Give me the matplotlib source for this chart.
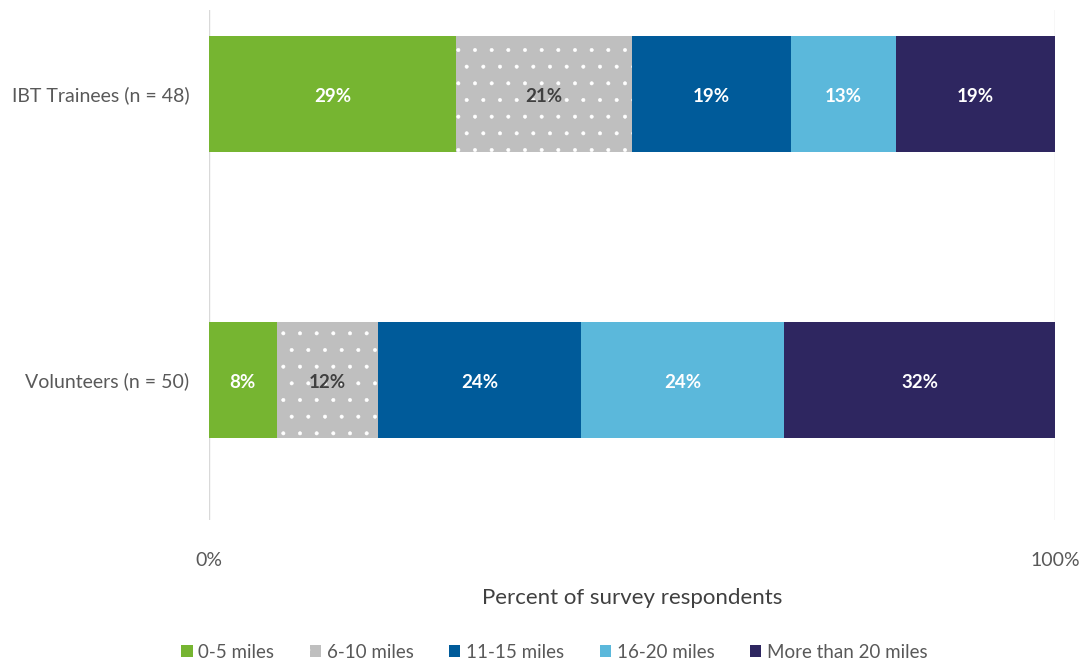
import numpy as np
import matplotlib.pyplot as plt
from matplotlib.patches import Patch

plt.rcParams['font.family'] = ['Lato', 'DejaVu Sans']
plt.rcParams['hatch.linewidth'] = 0.4

# Antworten je Gruppe (Anzahl), daraus Prozentwerte
groups = ["IBT Trainees (n = 48)", "Volunteers (n = 50)"]
n_total = [48, 50]
categories = ["0-5 miles", "6-10 miles", "11-15 miles", "16-20 miles", "More than 20 miles"]
counts = [
    [14, 10, 9, 6, 9],     # IBT Trainees
    [4, 6, 12, 12, 16],    # Volunteers
]
colors = ["#76B531", "#BFBFBF", "#005B9A", "#5BB8DB", "#2E2660"]
label_colors = ["white", "#404040", "white", "white", "white"]

pct = np.array(counts, dtype=float) / np.array(n_total)[:, None] * 100

fig = plt.figure(figsize=(10.83, 6.62), dpi=100)
ax = fig.add_axes([209 / 1083, 1 - 520 / 662, 846 / 1083, 510 / 662])

ypos = np.arange(len(groups))
left = np.zeros(len(groups))
for j, cat in enumerate(categories):
    vals = pct[:, j]
    hatch = "." if j == 1 else None
    bars = ax.barh(ypos, vals, left=left, height=0.405, color=colors[j],
                   hatch=hatch, edgecolor="white" if hatch else colors[j],
                   linewidth=0, label=cat)
    for b, v in zip(bars, vals):
        ax.text(b.get_x() + b.get_width() / 2, b.get_y() + b.get_height() / 2 + 0.01,
                f"{int(v + 0.5)}%", ha="center", va="center",
                fontsize=13.5, fontweight="bold", color=label_colors[j])
    left += vals

ax.set_xlim(0, 100)
ax.set_ylim(1.49, -0.294)
ax.set_yticks(ypos)
ax.set_yticklabels(groups, fontsize=14, color="#595959")
ax.set_xticks([0, 100])
ax.set_xticklabels(["0%", "100%"], fontsize=14, color="#595959")
ax.tick_params(axis="y", length=0, pad=14)
ax.tick_params(axis="x", length=0, pad=23)
for x in [0, 100]:
    ax.axvline(x, color="#D9D9D9", lw=1, zorder=0)
for s in ax.spines.values():
    s.set_visible(False)

ax.set_xlabel("Percent of survey respondents", fontsize=16, color="#404040", labelpad=14)

handles = [Patch(facecolor=c, edgecolor="white" if i == 1 else c,
                 hatch="." if i == 1 else None, linewidth=0)
           for i, c in enumerate(colors)]
fig.legend(handles, categories, loc="center", bbox_to_anchor=(0.512, 1 - 652 / 662),
           ncol=5, frameon=False, fontsize=13.5, handlelength=0.6, handleheight=0.6,
           handletextpad=0.3, columnspacing=1.9, labelcolor="#595959")

fig.savefig("out.png", dpi=100)
